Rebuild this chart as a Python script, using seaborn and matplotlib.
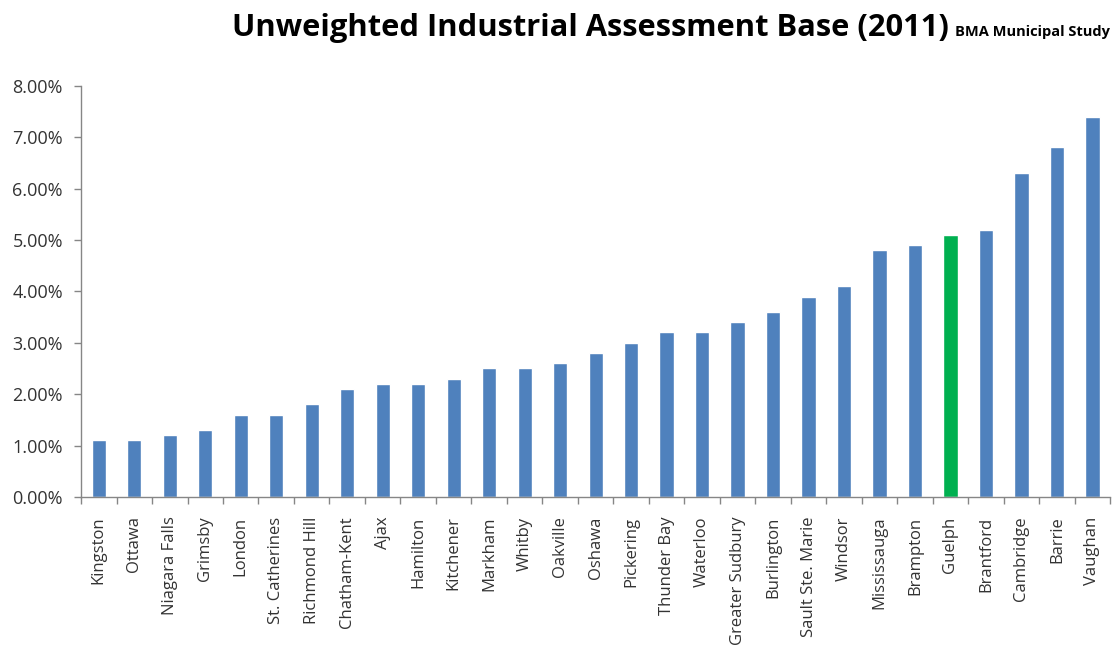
import matplotlib
matplotlib.use("Agg")
import matplotlib.pyplot as plt
import seaborn as sns
import numpy as np
from matplotlib.ticker import FuncFormatter, FixedLocator

cities = ["Kingston", "Ottawa", "Niagara Falls", "Grimsby", "London", "St. Catherines",
          "Richmond Hill", "Chatham-Kent", "Ajax", "Hamilton", "Kitchener", "Markham",
          "Whitby", "Oakville", "Oshawa", "Pickering", "Thunder Bay", "Waterloo",
          "Greater Sudbury", "Burlington", "Sault Ste. Marie", "Windsor", "Mississauga",
          "Brampton", "Guelph", "Brantford", "Cambridge", "Barrie", "Vaughan"]
values = [1.1, 1.1, 1.2, 1.3, 1.6, 1.6, 1.8, 2.1, 2.2, 2.2, 2.3, 2.5, 2.5, 2.6, 2.8,
          3.0, 3.2, 3.2, 3.4, 3.6, 3.9, 4.1, 4.8, 4.9, 5.1, 5.2, 6.3, 6.8, 7.4]
highlight = "Guelph"
y_ticks = [0, 1, 2, 3, 4, 5, 6, 7, 8]

sns.set_theme(style="white")
plt.rcParams["font.family"] = ["Open Sans", "DejaVu Sans"]

fig = plt.figure(figsize=(11.18, 6.45), dpi=100)
ax = fig.add_axes([0.0725, 0.2295, 0.9205, 0.6375])

blue = "#4F81BD"
green = "#00B050"
palette = {c: (green if c == highlight else blue) for c in cities}
sns.barplot(x=cities, y=values, hue=cities, palette=palette, legend=False,
            width=0.4, ax=ax, saturation=1)

ax.set_xlim(-0.5, len(cities) - 0.5)
ax.set_ylim(0, 8)
ax.set_yticks(y_ticks)
ax.yaxis.set_major_formatter(FuncFormatter(lambda v, p: f"{v:.2f}%"))

for s in ["top", "right"]:
    ax.spines[s].set_visible(False)
for s in ["left", "bottom"]:
    ax.spines[s].set_color("#868686")
    ax.spines[s].set_linewidth(1.0)

ax.tick_params(axis="y", direction="out", length=5, width=1, color="#868686",
               labelsize=13, labelcolor="#333333", pad=8, left=True)
ax.tick_params(axis="x", which="major", length=0, labelsize=12, labelcolor="#333333",
               rotation=90, pad=14)
ax.xaxis.set_minor_locator(FixedLocator(np.arange(-0.5, len(cities), 1.0)))
ax.tick_params(axis="x", which="minor", direction="out", length=5, width=1,
               color="#868686", bottom=True)
ax.set_xlabel("")
ax.set_ylabel("")

fig.text(0.528, 0.957, "Unweighted Industrial Assessment Base (2011)", ha="center",
         va="center", fontsize=22.2, fontweight="bold", color="#000000")
fig.text(0.854, 0.950, "BMA Municipal Study", ha="left", va="center", fontsize=10.5,
         fontweight="bold", color="#000000")

fig.savefig("out.png", dpi=100)
